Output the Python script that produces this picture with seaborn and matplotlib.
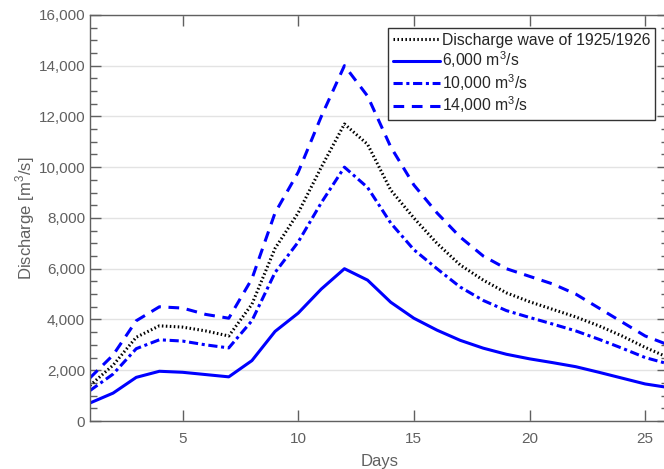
import seaborn as sns
import matplotlib.pyplot as plt
import numpy as np
import pandas as pd
from matplotlib.ticker import MultipleLocator, FuncFormatter

days = list(range(1, 27))
wave_1925 = [1400, 2200, 3300, 3750, 3700, 3550, 3350, 4600, 6800, 8200, 10000, 11700, 10900,
             9100, 8000, 7000, 6150, 5550, 5050, 4700, 4400, 4100, 3750, 3350, 2900, 2500]
q6000 = [710, 1100, 1720, 1960, 1920, 1830, 1740, 2380, 3530, 4250, 5200, 6000, 5550,
         4680, 4050, 3580, 3180, 2870, 2630, 2450, 2300, 2140, 1920, 1690, 1460, 1320]
q10000 = [1200, 1850, 2850, 3200, 3150, 3000, 2880, 3950, 5850, 7050, 8600, 10000, 9200,
          7800, 6750, 6000, 5280, 4750, 4350, 4080, 3820, 3550, 3220, 2870, 2500, 2250]
q14000 = [1700, 2600, 3950, 4500, 4450, 4200, 4050, 5600, 8200, 9800, 12000, 14000, 12800,
          10800, 9300, 8200, 7250, 6500, 6000, 5700, 5400, 5000, 4450, 3900, 3350, 3000]

labels = ['Discharge wave of 1925/1926', '6,000 m$^3$/s', '10,000 m$^3$/s', '14,000 m$^3$/s']
df = pd.DataFrame({'day': days * 4,
                   'q': wave_1925 + q6000 + q10000 + q14000,
                   'series': sum([[l] * len(days) for l in labels], [])})

sns.set_theme(style='white')
plt.rcParams['font.family'] = ['Liberation Sans', 'DejaVu Sans']
plt.rcParams['mathtext.fontset'] = 'custom'
plt.rcParams['mathtext.rm'] = 'Liberation Sans'

grey = '#606060'
fig = plt.figure(figsize=(6.64, 4.69), dpi=100)
ax = fig.add_axes([0.1355, 0.1023, 0.871, 0.866])

styles = {labels[0]: dict(color='black', linestyle=(0, (0.5, 0.8))),
          labels[1]: dict(color='#0000ff', linestyle='-'),
          labels[2]: dict(color='#0000ff', linestyle=(0, (3, 1.2, 1, 1.2))),
          labels[3]: dict(color='#0000ff', linestyle=(0, (3.5, 2.5)))}
for lab in labels:
    sub = df[df.series == lab]
    sns.lineplot(data=sub, x='day', y='q', ax=ax, label=lab, lw=2.2, **styles[lab])

ax.set_xlim(1, 26)
ax.set_ylim(0, 16000)
ax.xaxis.set_major_locator(MultipleLocator(5))
ax.yaxis.set_major_locator(MultipleLocator(2000))
ax.yaxis.set_minor_locator(MultipleLocator(500))
ax.yaxis.set_major_formatter(FuncFormatter(lambda v, p: f'{int(v):,}'))
ax.tick_params(axis='both', which='both', direction='in', top=True, right=True,
               bottom=True, left=True, labelsize=11, colors=grey, labelcolor=grey)
ax.tick_params(which='major', length=8, width=1)
ax.tick_params(which='minor', length=5, width=1)
ax.tick_params(axis='x', pad=8)
ax.grid(axis='y', which='major', color='#e3e3e3', lw=1)
ax.set_axisbelow(True)
for s in ax.spines.values():
    s.set_color(grey)
    s.set_linewidth(1)

ax.set_xlabel('Days', fontsize=12, color=grey, labelpad=6)
ax.set_ylabel('Discharge [m$^3$/s]', fontsize=12, color=grey, labelpad=1)

leg = ax.legend(loc='upper right', bbox_to_anchor=(0.977, 0.968), fontsize=11.3,
                handlelength=3.0, handletextpad=0.1, labelspacing=0.12,
                borderpad=0.3, fancybox=False, framealpha=1, borderaxespad=0)
leg.get_frame().set_edgecolor('#333333')
leg.get_frame().set_linewidth(1)

fig.savefig('out.png', dpi=100)
